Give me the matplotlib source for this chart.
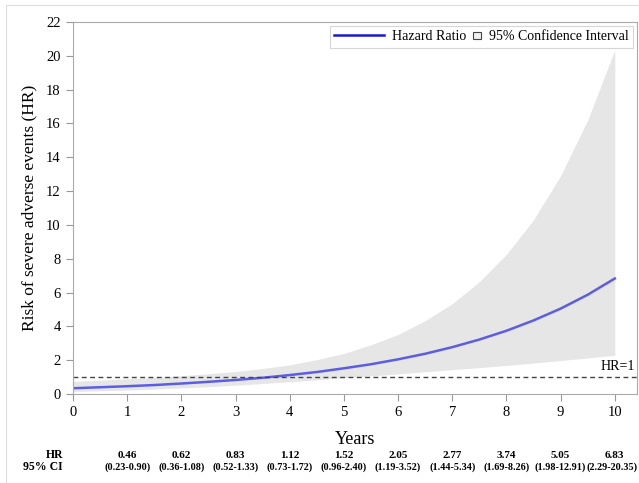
import matplotlib
matplotlib.use("Agg")
import matplotlib.pyplot as plt
import matplotlib.patches as mpatches
from matplotlib.lines import Line2D
from matplotlib.legend_handler import HandlerPatch
from matplotlib.transforms import blended_transform_factory

plt.rcParams['font.family'] = ['Liberation Serif', 'DejaVu Serif']

# data (half-year steps, estimated from the curve)
years = [0, 0.5, 1, 1.5, 2, 2.5, 3, 3.5, 4, 4.5, 5, 5.5, 6, 6.5, 7, 7.5, 8, 8.5, 9, 9.5, 10]
hr = [0.34, 0.40, 0.46, 0.53, 0.62, 0.72, 0.83, 0.96, 1.12, 1.30, 1.52,
      1.76, 2.05, 2.38, 2.77, 3.22, 3.74, 4.35, 5.05, 5.87, 6.83]
ci_low = [0.15, 0.19, 0.23, 0.29, 0.36, 0.43, 0.52, 0.62, 0.73, 0.84, 0.96,
          1.07, 1.19, 1.31, 1.44, 1.56, 1.69, 1.83, 1.98, 2.13, 2.29]
ci_high = [0.75, 0.82, 0.90, 0.98, 1.08, 1.20, 1.33, 1.51, 1.72, 2.03, 2.40,
           2.91, 3.52, 4.34, 5.34, 6.64, 8.26, 10.3, 12.91, 16.2, 20.35]

table_years = [1, 2, 3, 4, 5, 6, 7, 8, 9, 10]
hr_labels = ["0.46", "0.62", "0.83", "1.12", "1.52", "2.05", "2.77", "3.74", "5.05", "6.83"]
ci_labels = ["(0.23-0.90)", "(0.36-1.08)", "(0.52-1.33)", "(0.73-1.72)", "(0.96-2.40)",
             "(1.19-3.52)", "(1.44-5.34)", "(1.69-8.26)", "(1.98-12.91)", "(2.29-20.35)"]

fig = plt.figure(figsize=(6.39, 4.83), dpi=100)
ax = fig.add_axes([73 / 639, 89 / 483, 564 / 639, 372 / 483])

ax.fill_between(years, ci_low, ci_high, color='#e6e6e6', linewidth=0)
ax.plot(years, hr, color='#5c5ce6', linewidth=1.8)
ax.axhline(1, color='#444444', linestyle=(0, (3.5, 2.5)), linewidth=1)
ax.text(10.38, 1.25, "HR=1", ha='right', va='bottom', fontsize=10)

ax.set_xlim(0, 10.41)
ax.set_ylim(0, 22)
ax.set_xticks(range(0, 11))
ax.set_yticks(range(0, 23, 2))
ax.tick_params(direction='out', length=5, color='#999999', labelsize=10.5, pad=4)
for s in ax.spines.values():
    s.set_color('#aaaaaa')
ax.set_xlabel("Years", fontsize=13, labelpad=8)
ax.set_ylabel("Risk of severe adverse events (HR)", fontsize=12.5, labelpad=6)


def small_square(legend, orig_handle, xdescent, ydescent, width, height, fontsize):
    s = height * 0.75
    return mpatches.Rectangle((-xdescent + width - s, -ydescent + (height - s) / 2), s, s)


h_line = Line2D([], [], color='#1a1ad6', linewidth=1.8)
h_band = mpatches.Patch(facecolor='#f0f0f0', edgecolor='#444444', linewidth=0.8)
leg = ax.legend([h_line, h_band], ["Hazard Ratio", "95% Confidence Interval"],
                loc='upper right', ncol=2, fontsize=10, frameon=True, fancybox=False,
                handlelength=3.6, handletextpad=0.6, columnspacing=-2.6,
                borderpad=0.3, borderaxespad=0.3,
                handler_map={mpatches.Patch: HandlerPatch(patch_func=small_square)})
leg.get_frame().set_edgecolor('#cccccc')
leg.get_frame().set_linewidth(0.8)

# table under the axis
tr = blended_transform_factory(ax.transData, fig.transFigure)
y_hr = 1 - 455 / 483
y_ci = 1 - 467 / 483
fig.text(63 / 639, y_hr, "HR", ha='right', va='center', fontsize=8.5, fontweight='bold')
fig.text(63 / 639, y_ci, "95% CI", ha='right', va='center', fontsize=8.5, fontweight='bold')
for x, a, b in zip(table_years, hr_labels, ci_labels):
    ax.text(x, y_hr, a, transform=tr, ha='center', va='center', fontsize=8,
            fontweight='bold', clip_on=False)
    if x == table_years[-1]:
        # the last interval is pushed left so it stays inside the picture
        fig.text(638 / 639, y_ci, b, ha='right', va='center', fontsize=7.3,
                 fontweight='bold')
    else:
        ax.text(x, y_ci, b, transform=tr, ha='center', va='center', fontsize=7.3,
                fontweight='bold', clip_on=False)

# faint outer border of the original graphic
fig.patches.append(mpatches.Rectangle((6 / 639, -0.05), 1, 1 - 5 / 483 + 0.05,
                                      transform=fig.transFigure, fill=False,
                                      edgecolor='#dddddd', linewidth=0.8))

fig.savefig("out.png", dpi=100)
